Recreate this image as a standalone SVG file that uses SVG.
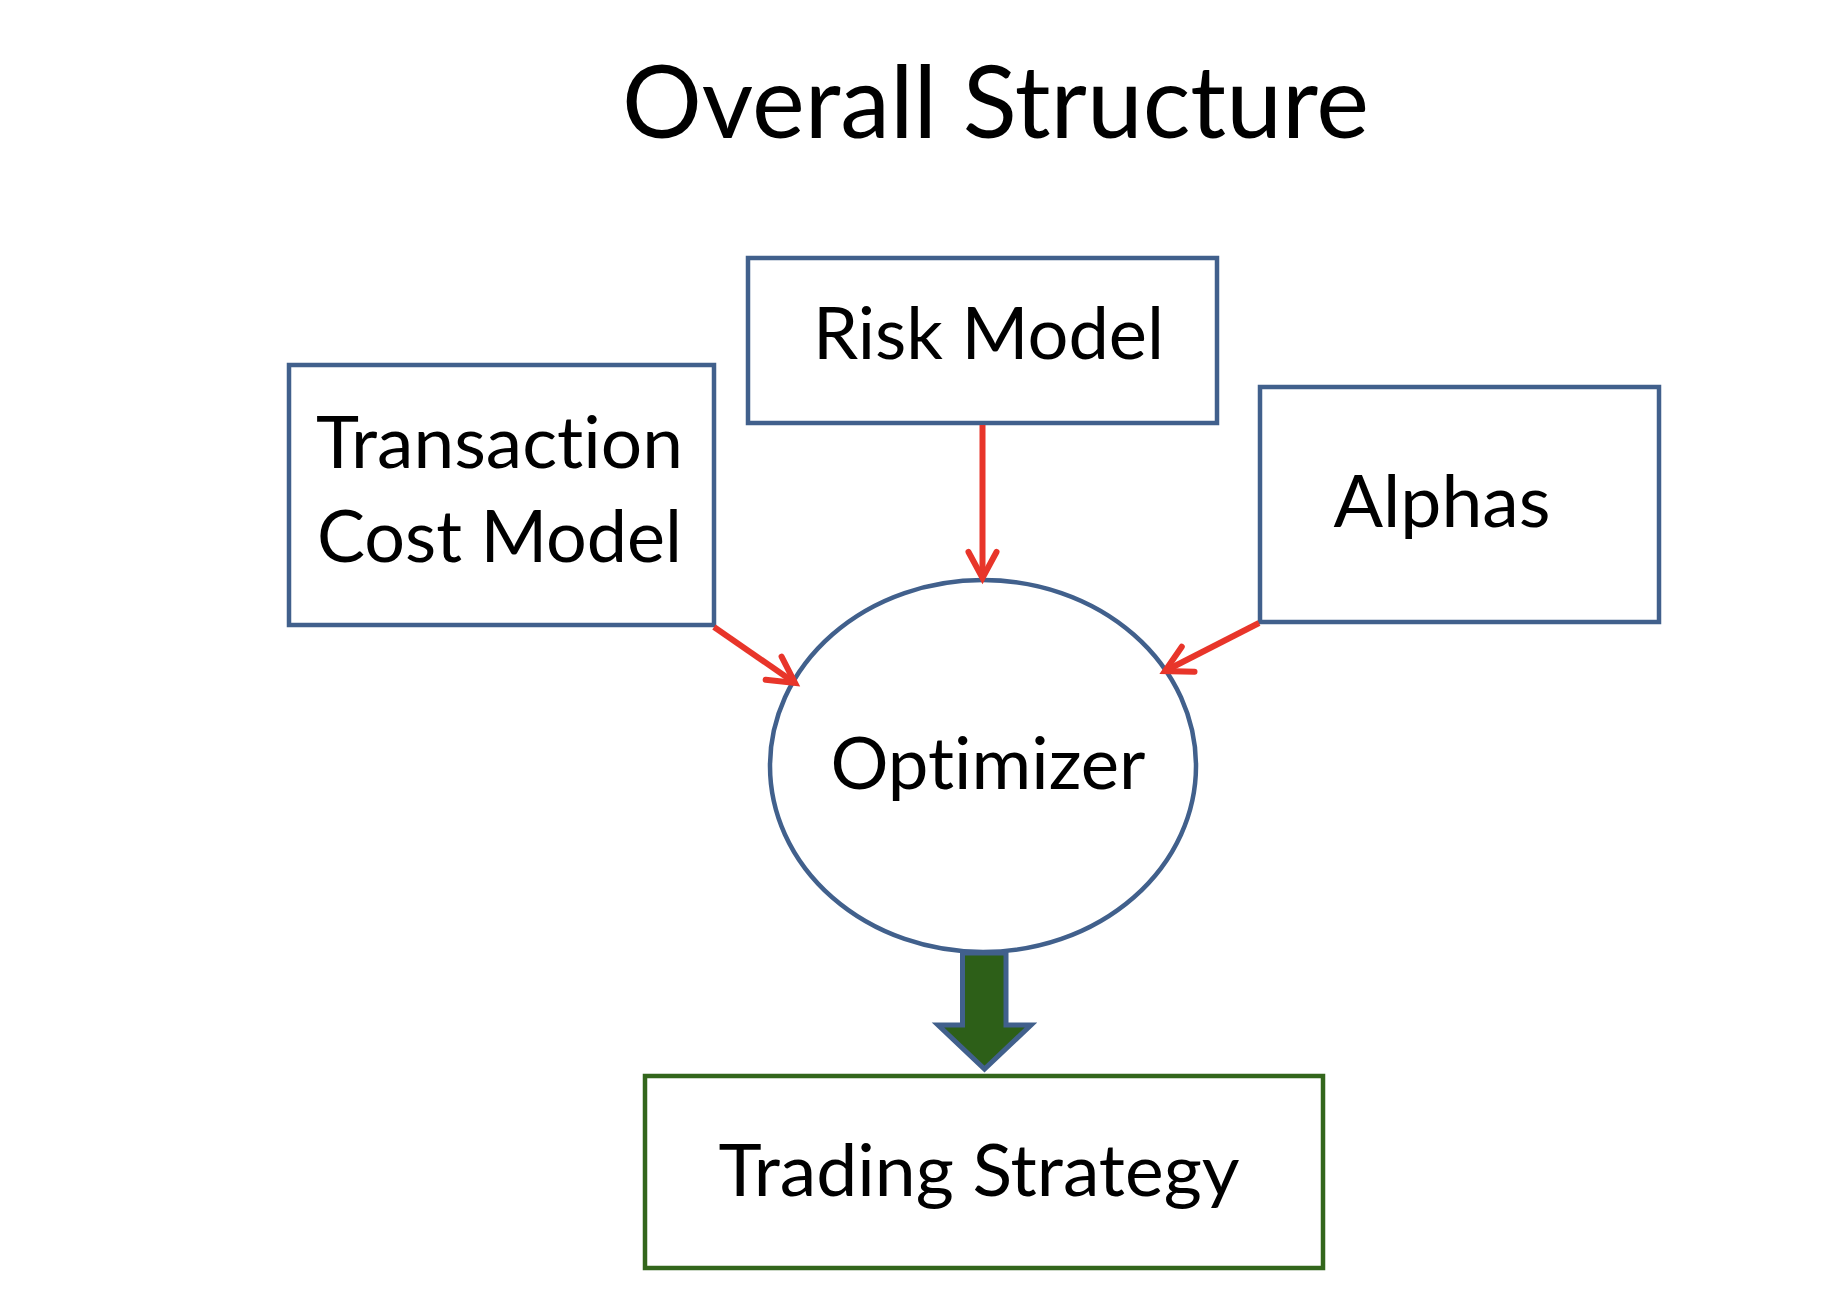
<svg xmlns="http://www.w3.org/2000/svg" width="1846" height="1296" viewBox="0 0 1846 1296">
  <style>
    .box { fill: #ffffff; stroke: #41608c; stroke-width: 4.5; }
    .green-box { fill: #ffffff; stroke: #33661c; stroke-width: 4.5; }
    .lbl { font-family: Lato, "Open Sans", "Liberation Sans", sans-serif; font-size: 72px; fill: #000000; text-anchor: middle; font-variant-ligatures: none; font-feature-settings: "liga" 0, "clig" 0; }
    .title { font-family: Lato, "Open Sans", "Liberation Sans", sans-serif; font-size: 100px; fill: #000000; text-anchor: middle; font-variant-ligatures: none; font-feature-settings: "liga" 0, "clig" 0; }
    .conn { fill: none; stroke: #e8352a; stroke-width: 6; }
    .block { fill: #2d5f18; stroke: #41608c; stroke-width: 5; stroke-linejoin: miter; }
  </style>
  <defs>
    <marker id="vhead" viewBox="-32 -20 40 40" refX="0" refY="0" markerWidth="40" markerHeight="40" markerUnits="userSpaceOnUse" orient="auto" overflow="visible">
      <path d="M-26,-14 L0,0 L-26,14" fill="none" stroke="#e8352a" stroke-width="6" stroke-linecap="round" stroke-linejoin="miter"/>
    </marker>
  </defs>
  <rect width="1846" height="1296" fill="#ffffff"/>

  <text id="title" class="title" x="995.5" y="138" textLength="747" lengthAdjust="spacingAndGlyphs">Overall Structure</text>

  <g id="node-risk">
    <rect class="box" x="748" y="258" width="469" height="165"/>
    <text class="lbl" x="988.5" y="359" textLength="351" lengthAdjust="spacingAndGlyphs">Risk Model</text>
  </g>

  <g id="node-transaction">
    <rect class="box" x="289" y="365" width="425" height="260"/>
    <text class="lbl" x="499.5" y="468" textLength="367" lengthAdjust="spacingAndGlyphs">Transaction</text>
    <text class="lbl" x="499.5" y="562" textLength="365" lengthAdjust="spacingAndGlyphs">Cost Model</text>
  </g>

  <g id="node-alphas">
    <rect class="box" x="1260" y="387" width="399" height="235"/>
    <text class="lbl" x="1442" y="527" textLength="217" lengthAdjust="spacingAndGlyphs">Alphas</text>
  </g>

  <g id="node-optimizer">
    <ellipse class="box" cx="983" cy="766" rx="213" ry="186"/>
    <text class="lbl" x="988" y="789" textLength="315" lengthAdjust="spacingAndGlyphs">Optimizer</text>
  </g>

  <g id="node-trading">
    <rect class="green-box" x="645" y="1076" width="678" height="192"/>
    <text class="lbl" x="979" y="1196" textLength="521" lengthAdjust="spacingAndGlyphs">Trading Strategy</text>
  </g>

  <g id="connectors">
    <line class="conn" x1="982.5" y1="425" x2="982.5" y2="578" marker-end="url(#vhead)"/>
    <line class="conn" x1="714" y1="627" x2="795" y2="683" marker-end="url(#vhead)"/>
    <line class="conn" x1="1259" y1="623" x2="1165" y2="671" marker-end="url(#vhead)"/>
    <path class="block" d="M962.5,953 L1006,953 L1006,1025 L1031,1025 L984.5,1069 L938,1025 L962.5,1025 Z"/>
  </g>
</svg>
